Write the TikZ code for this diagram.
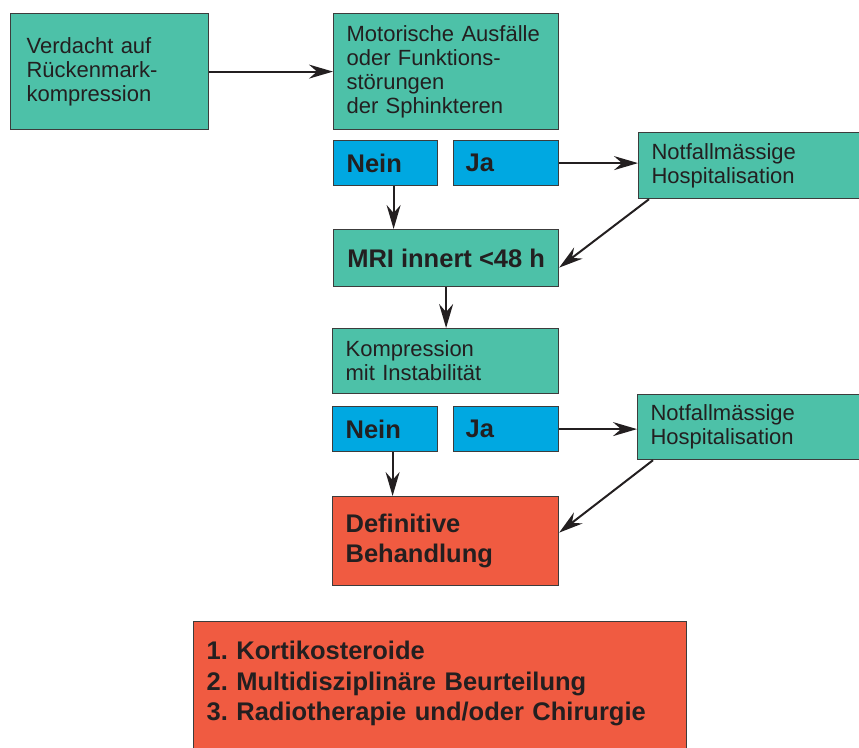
\documentclass[tikz,border=0pt]{standalone}
\usepackage{fontspec}
\setmainfont{Liberation Sans}
\usetikzlibrary{arrows.meta}
\definecolor{MTeal}{HTML}{4DC1A8}
\definecolor{MBlue}{HTML}{00A8E1}
\definecolor{MRed}{HTML}{F05B41}
\definecolor{MInk}{HTML}{231F20}
\definecolor{MEdge}{HTML}{3C3C3C}
\newcommand{\regfont}{\fontsize{22}{24}\selectfont}
\newcommand{\heavyfont}{\fontsize{25.5}{30.5}\selectfont\bfseries}
\frenchspacing

\begin{document}
\begin{tikzpicture}[x=1pt,y=-1pt,
    box/.style={draw=MEdge,line width=1.2pt,anchor=north west,inner xsep=13pt,inner ysep=0pt,align=left,text=MInk},
    tealbox/.style={box,fill=MTeal,font=\regfont},
    bluebox/.style={box,fill=MBlue,font=\heavyfont,minimum height=45pt},
    redbox/.style={box,fill=MRed,font=\heavyfont},
    arr/.style={draw=MInk,line width=2pt,-{Stealth[length=24pt,width=14pt,inset=8pt]}}]
    \useasboundingbox (0,0) rectangle (859,747);
    % top row
    \node[tealbox,text width=166pt,inner xsep=16pt,minimum height=116pt] (verdacht) at (10,13) {Verdacht auf\\Rückenmark-\\kompression};
    \node[tealbox,text width=199pt,minimum height=116pt] (motor) at (333,13) {Motorische Ausfälle\\oder Funktions-\\störungen\\der Sphinkteren};
    \node[bluebox,text width=78pt] (nein1) at (333,140) {Nein};
    \node[bluebox,text width=81pt,inner xsep=12pt] (ja1) at (453,140) {Ja};
    \node[tealbox,text width=211pt,minimum height=66pt] (hosp1) at (638,132) {Notfallmässige\\Hospitalisation};
    \node[box,fill=MTeal,font=\heavyfont,minimum width=225pt,minimum height=57pt] (mri) at (333,229) {MRI innert <48 h};
    % second decision
    \node[tealbox,text width=200pt,minimum height=65pt] (kompr) at (332,328) {Kompression\\mit Instabilität};
    \node[bluebox,text width=79pt] (nein2) at (332,406) {Nein};
    \node[bluebox,text width=81pt,inner xsep=12pt] (ja2) at (453,406) {Ja};
    \node[tealbox,text width=212pt,minimum height=65pt] (hosp2) at (637,394) {Notfallmässige\\Hospitalisation};
    \node[redbox,text width=200pt,minimum height=89pt] (defin) at (332,496) {Definitive\\Behandlung};
    \node[redbox,text width=467pt,inner ysep=18pt,text height=20pt,text depth=83pt] (steps) at (193,621) {1. Kortikosteroide\\2. Multidisziplinäre Beurteilung\\3. Radiotherapie und/oder Chirurgie};
    % arrows
    \draw[arr] (verdacht.east) -- (motor.west);
    \draw[arr] ([xshift=8pt]nein1.south) -- ([xshift=8pt]nein1.south |- mri.north);
    \draw[arr] (ja1.east) -- (ja1.east -| hosp1.west);
    \draw[arr] ([xshift=11pt]hosp1.south west) -- ([yshift=-9.5pt]mri.east);
    \draw[arr] (mri.south) -- (mri.south |- kompr.north);
    \draw[arr] ([xshift=7.5pt]nein2.south) -- ([xshift=7.5pt]nein2.south |- defin.north);
    \draw[arr] (ja2.east) -- (ja2.east -| hosp2.west);
    \draw[arr] ([xshift=16pt]hosp2.south west) -- ([yshift=8.5pt]defin.east);
\end{tikzpicture}
\end{document}
